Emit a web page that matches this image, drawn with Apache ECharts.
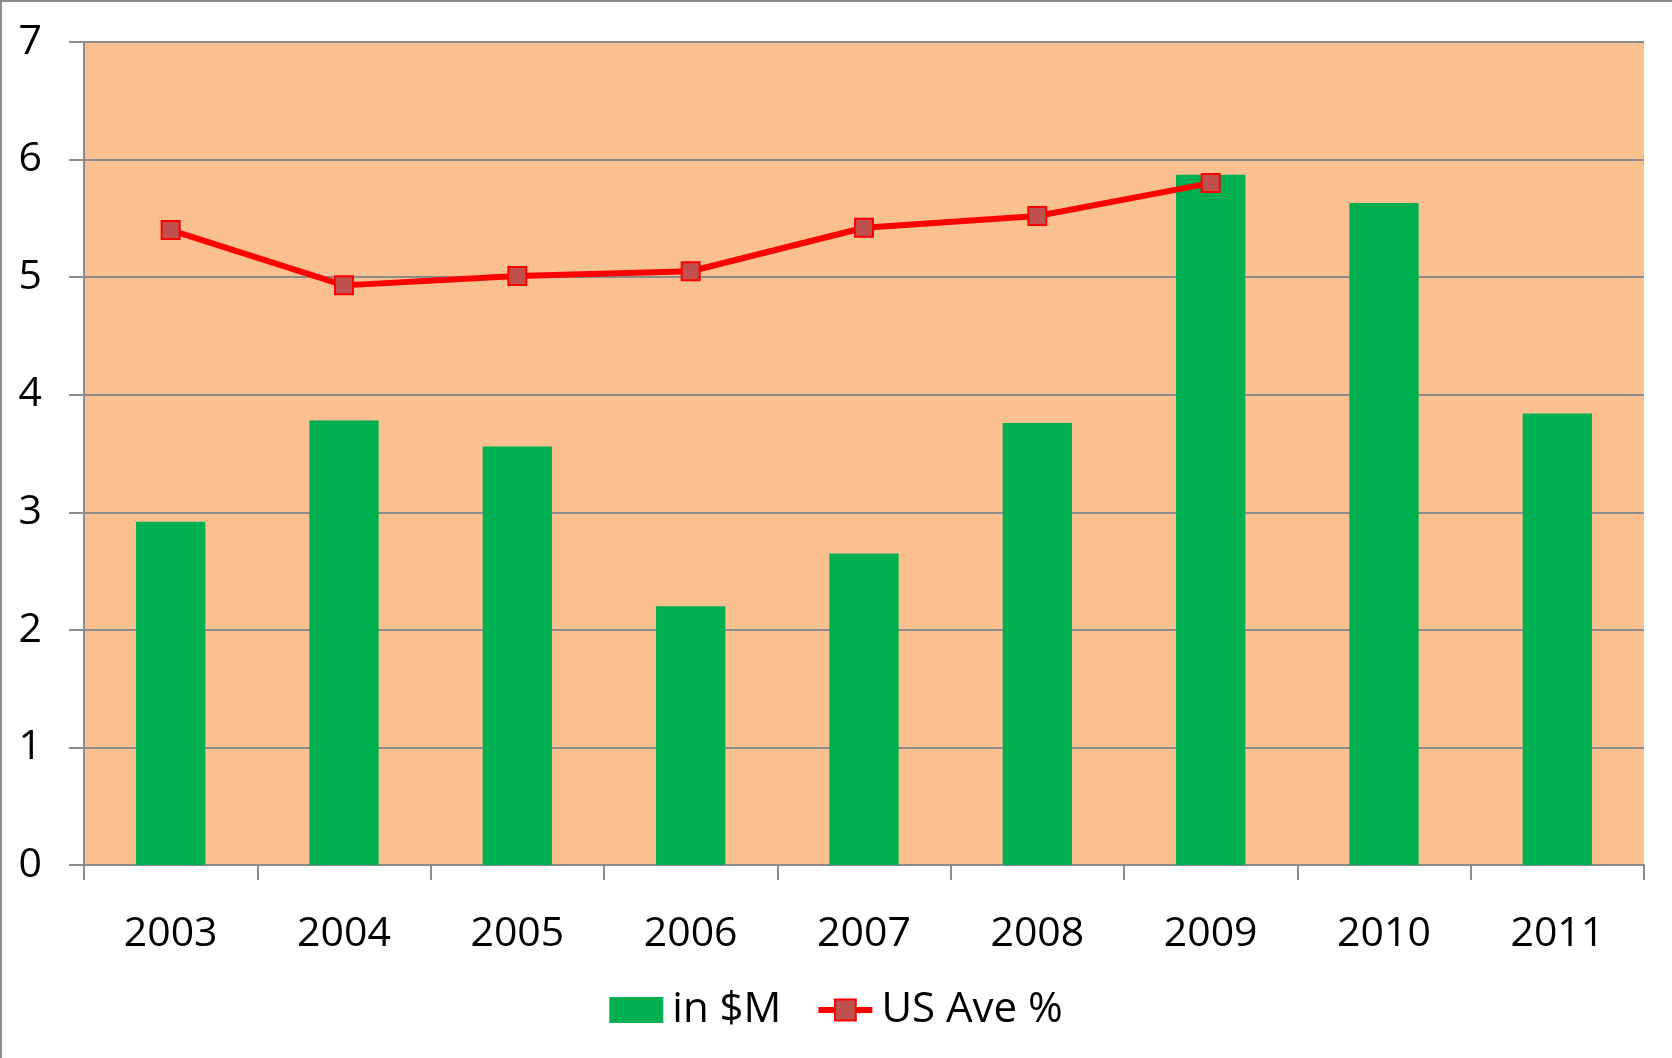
<!DOCTYPE html>
<html>
<head>
<meta charset="utf-8">
<script src="https://cdn.jsdelivr.net/npm/echarts@6/dist/echarts.min.js"></script>
<style>
html,body{margin:0;padding:0;background:#fff;}
#wrap{position:absolute;left:0;top:0;width:1672px;height:1058px;box-sizing:border-box;border-top:2px solid #8c8c8c;border-left:2px solid #8c8c8c;}
#chart{position:absolute;left:0;top:0;width:1672px;height:1058px;}
</style>
</head>
<body>
<div id="wrap"></div>
<div id="chart"></div>
<script>
var categories = ['2003','2004','2005','2006','2007','2008','2009','2010','2011'];
var inMillions = [2.92, 3.78, 3.56, 2.20, 2.65, 3.76, 5.87, 5.63, 3.84];
var usAvePct = [5.40, 4.93, 5.01, 5.05, 5.42, 5.52, 5.80, null, null];
var yTicks = [0, 1, 2, 3, 4, 5, 6, 7];

var FONT = '"Open Sans", sans-serif';
var chart = echarts.init(document.getElementById('chart'), null, {renderer: 'canvas'});
chart.setOption({
  animation: false,
  textStyle: {fontFamily: FONT},
  grid: {left: 84, right: 28, top: 42, bottom: 193, show: true, backgroundColor: '#FAC090', borderWidth: 0},
  legend: {
    bottom: 22, left: 'center',
    itemWidth: 54, itemHeight: 26, itemGap: 34,
    lineStyle: {width: 6},
    textStyle: {fontSize: 42, color: '#000', fontFamily: FONT, padding: [0,0,0,4]},
    data: [
      {name: 'in $M', icon: 'rect'},
      {name: 'US Ave %'}
    ]
  },
  xAxis: {
    type: 'category',
    data: categories,
    axisLine: {lineStyle: {color: '#8c8c8c', width: 2}},
    axisTick: {show: true, length: 15, lineStyle: {color: '#8c8c8c', width: 2}},
    axisLabel: {fontSize: 41, color: '#000', margin: 49, fontFamily: FONT}
  },
  yAxis: {
    type: 'value', min: yTicks[0], max: yTicks[yTicks.length-1], interval: 1,
    axisLine: {show: true, lineStyle: {color: '#8c8c8c', width: 2}},
    axisTick: {show: true, length: 15, lineStyle: {color: '#8c8c8c', width: 2}},
    splitLine: {show: true, lineStyle: {color: '#8c8c8c', width: 2}},
    axisLabel: {fontSize: 41, color: '#000', margin: 42, fontFamily: FONT}
  },
  series: [
    {
      name: 'in $M', type: 'bar', data: inMillions,
      barWidth: '40%',
      itemStyle: {color: '#00B050'}
    },
    {
      name: 'US Ave %', type: 'line', data: usAvePct,
      symbol: 'rect', symbolSize: 18,
      lineStyle: {color: '#FF0000', width: 6},
      itemStyle: {color: '#C0504D', borderColor: '#FF0000', borderWidth: 2},
      z: 5
    }
  ]
});
</script>
</body>
</html>
